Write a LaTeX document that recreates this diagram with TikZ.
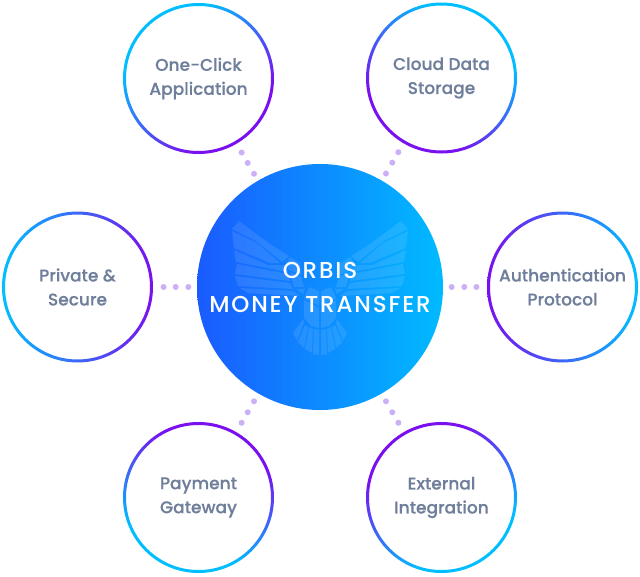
\documentclass[tikz,border=0pt]{standalone}
\usepackage{fontspec}
\newfontfamily\popm[FakeBold=.25]{Poppins Medium}
\newfontfamily\poph[LetterSpace=8]{Poppins Medium}
\definecolor{ringcy}{HTML}{00BFFF}
\definecolor{ringpu}{HTML}{7A0FEF}
\definecolor{hubl}{HTML}{1A5BFF}
\definecolor{hubr}{HTML}{00BBFF}
\definecolor{labelc}{HTML}{6F7F9B}
\definecolor{dotc}{HTML}{CBB0F6}
\pgfdeclareverticalshading{ringstraight}{100bp}{color(0bp)=(ringpu); color(25bp)=(ringpu); color(75bp)=(ringcy); color(100bp)=(ringcy)}
\pgfdeclareverticalshading{ringdiag}{100bp}{color(0bp)=(ringpu); color(33bp)=(ringpu); color(67bp)=(ringcy); color(100bp)=(ringcy)}
\tikzset{
  x=1pt,y=-1pt,
  topic/.style={circle,minimum size=151pt,inner sep=0pt,align=center,text=labelc,
    font=\popm\fontsize{17}{24}\selectfont},
  hubnode/.style={circle,minimum size=246pt,inner sep=0pt,
    left color=hubl,right color=hubr},
  linkdot/.style={circle,fill=dotc,minimum size=6pt,inner sep=0pt},
  feather/.style={fill=white,fill opacity=.10,draw=none},
}
\newcommand{\ringat}[3]{\shade[shading=#3,shading angle=#2,even odd rule]
  (#1) circle[radius=75.5pt] (#1) circle[radius=72.5pt];}
\newcommand{\linkdots}[2]{\path (#1.center) -- (#2.center)
  node[linkdot,pos=.543] {} node[linkdot,pos=.595] {} node[linkdot,pos=.645] {};}
\newcommand{\halfeagle}{%
  \fill[feather] (-81,221)--(-50,244)--(-31,256)--(-38,262)--(-64,241)--(-88,229)--cycle;
  \fill[feather] (-88,231)--(-63,243)--(-40,263)--(-50,263)--(-86,248)--cycle;
  \fill[feather] (-86,250)--(-52,265)--(-35,265)--(-32,272)--(-84,262)--cycle;
  \fill[feather] (-83,264)--(-32,274)--(-30,281)--(-85,274)--cycle;
  \fill[feather] (-85,276)--(-30,283)--(-27,289)--(-82,286)--cycle;
  \fill[feather] (-80,288)--(-27,291)--(-20,296)--(-72,293)--cycle;
  \fill[feather] (-30,257)--(-20,263)--(-19,275)--(-31,270)--(-34,263)--cycle;
  \fill[feather] (-30,272)--(-19,277)--(-16,287)--(-26,287)--cycle;
  \fill[feather] (-24,289)--(-15,289)--(-17,294)--cycle;
  \fill[feather] (-11,287)--(-1,291)--(-1,306)--(-16,298)--cycle;
  \fill[feather] (-16,300)--(-1,308)--(-1,328)--(-9,326)--(-16,318)--cycle;
  \fill[feather] (-1,330)--(-1,355)--(-7,354)--(-6,329)--cycle;
  \fill[feather] (-7,329)--(-8,353)--(-15,349)--(-11,327)--cycle;
  \fill[feather] (-12,327)--(-16,348)--(-22,342)--(-15,325)--cycle;
  \fill[feather] (-16,323)--(-23,341)--(-27,333)--(-17,319)--cycle;
}
\begin{document}
\begin{tikzpicture}
\useasboundingbox[fill=white] (0,0) rectangle (640,576);
\node[hubnode] (hub) at (320,287) {};
\begin{scope}[shift={(320,0)}]\halfeagle\end{scope}
\begin{scope}[shift={(320,0)},xscale=-1]\halfeagle\end{scope}
\node[text=white,align=center,font=\poph\fontsize{23}{34}\selectfont] (title) at (320,287.5) {ORBIS\\MONEY TRANSFER};
\node[topic] (one) at (198.5,78.5) {One-Click\\Application};
\node[topic] (cloud) at (441.5,78) {Cloud Data\\Storage};
\node[topic] (priv) at (77.5,287) {Private \&\\Secure};
\node[topic] (auth) at (562.5,287) {Authentication\\Protocol};
\node[topic] (pay) at (198.5,497.5) {Payment\\Gateway};
\node[topic] (ext) at (441.5,497.5) {External\\Integration};
\ringat{one}{40}{ringdiag}
\ringat{cloud}{-35}{ringdiag}
\ringat{priv}{90}{ringstraight}
\ringat{auth}{-90}{ringstraight}
\ringat{pay}{160}{ringdiag}
\ringat{ext}{-150}{ringdiag}
\linkdots{hub}{one}
\linkdots{hub}{cloud}
\linkdots{hub}{priv}
\linkdots{hub}{auth}
\linkdots{hub}{pay}
\linkdots{hub}{ext}
\end{tikzpicture}
\end{document}
